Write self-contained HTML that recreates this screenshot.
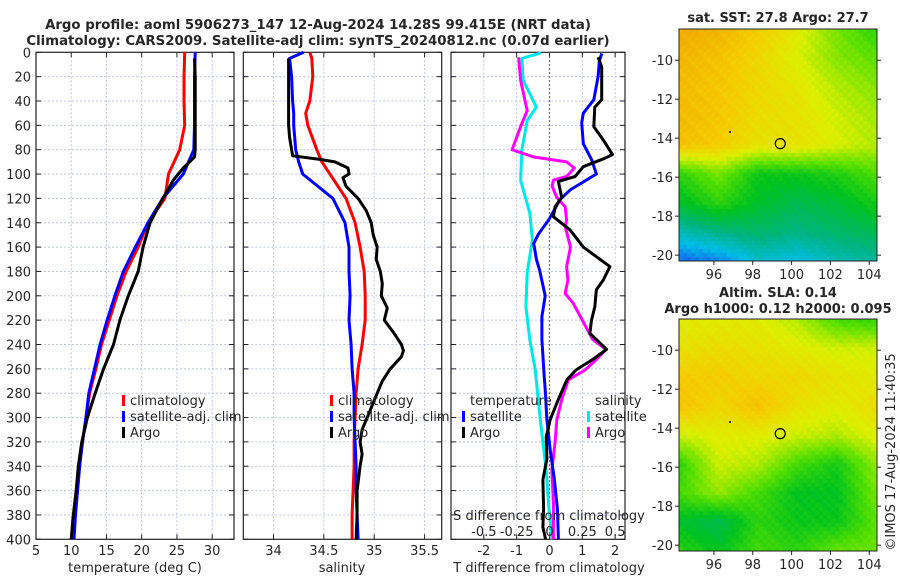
<!DOCTYPE html>
<html><head><meta charset="utf-8"><style>
body{margin:0;background:#fff;width:900px;height:580px;overflow:hidden;font-family:"DejaVu Sans","Liberation Sans",sans-serif}
svg{position:absolute;left:0;top:0}
canvas{position:absolute}
</style></head><body>
<canvas id="m1" width="198" height="232" style="left:679px;top:29px"></canvas>
<canvas id="m2" width="198" height="232" style="left:679px;top:319px"></canvas>
<svg id="s" width="900" height="580"></svg>
<script>
// ---- data ----
const depthTclim=[0,20,40,60,80,100,120,140,160,180,200,220,240,260,280,300,320,340,360,380,400];
const tClim=[26.1,26.0,26.0,26.1,25.4,23.8,23.3,20.9,19.5,17.8,16.5,15.4,14.3,13.5,12.6,12.1,11.6,11.1,10.7,10.4,10.1];
const tSat=[27.6,27.5,27.5,27.5,27.4,25.9,23.0,20.9,19.1,17.4,16.2,15.1,14.1,13.3,12.5,12.1,11.6,11.2,10.9,10.6,10.4];
const depthTargo=[5,20,40,60,80,86,95,105,120,140,160,180,200,220,240,260,280,300,320,340,360,380,400];
const tArgo=[27.5,27.6,27.6,27.6,27.6,27.5,25.9,24.5,23.0,21.2,20.2,19.5,18.1,16.9,16.0,14.6,13.4,12.3,11.5,11.0,10.7,10.3,10.0];

const depthS=[0,5,20,40,50,60,80,90,100,120,140,160,180,200,220,240,260,280,300,320,340,360,380,400];
const sClim=[34.36,34.38,34.39,34.36,34.32,34.34,34.43,34.48,34.56,34.72,34.81,34.86,34.90,34.91,34.91,34.88,34.84,34.82,34.81,34.80,34.80,34.79,34.78,34.78];
const sSat=[34.30,34.16,34.18,34.19,34.20,34.20,34.22,34.25,34.29,34.59,34.71,34.75,34.75,34.76,34.75,34.77,34.78,34.80,34.80,34.81,34.82,34.82,34.83,34.84];
const depthSargo=[5,20,40,60,70,85,88,90,95,100,103,110,120,130,140,150,160,170,180,190,200,210,220,230,240,245,250,260,270,280,290,300,310,320,330,340,360,380,400];
const sArgo=[34.15,34.15,34.15,34.15,34.16,34.19,34.46,34.61,34.74,34.75,34.69,34.72,34.84,34.92,34.97,34.99,35.03,35.02,35.06,35.08,35.07,35.13,35.10,35.19,35.27,35.29,35.27,35.16,35.08,35.03,34.98,34.93,34.88,34.86,34.88,34.86,34.83,34.83,34.82];

const depthDTsat=[1,7,20,39,50,58,75,88,100,113,121,138,149,157,170,179,200,217,236,266,277,302,326,351,375,400];
const dTsat=[1.59,1.52,1.48,1.35,1.03,0.98,1.03,1.28,1.43,0.63,0.32,-0.03,-0.33,-0.48,-0.4,-0.3,-0.13,-0.23,-0.23,-0.16,-0.13,-0.08,0.02,0.15,0.24,0.27];
const depthDTargo=[4,12,39,45,61,72,84,87,94,102,106,119,127,135,146,160,176,187,195,209,220,231,236,244,252,261,269,285,302,316,334,351,375,390,400];
const dTargo=[1.48,1.59,1.59,1.38,1.35,1.64,1.92,1.69,1.03,0.78,0.27,0.37,0.17,0.12,0.63,1.03,1.84,1.64,1.43,1.38,1.28,1.23,1.43,1.74,1.33,0.8,0.53,0.27,0.02,-0.1,-0.08,-0.2,-0.18,-0.2,-0.12];
const depthDSsat=[0.5,5,23,45,56,80,105,132,154,181,209,236,261,302,343,370,400];
const dSsat=[-0.066,-0.21,-0.2,-0.1,-0.17,-0.21,-0.22,-0.15,-0.13,-0.17,-0.18,-0.15,-0.108,-0.07,-0.025,-0.008,0.02];
const depthDSargo=[4,23,48,61,80,86,90,95,102,105,110,119,127,138,143,160,176,187,198,206,222,236,244,252,261,269,285,302,320,343,370,400];
const dSargo=[-0.235,-0.22,-0.17,-0.22,-0.285,-0.12,0.13,0.19,0.13,0.03,0.02,0.055,0.12,0.13,0.12,0.16,0.13,0.14,0.12,0.18,0.26,0.33,0.43,0.36,0.27,0.144,0.094,0.056,0.043,0.018,0.03,0.03];

const depthTicks=[0,20,40,60,80,100,120,140,160,180,200,220,240,260,280,300,320,340,360,380,400];
const tTicks=[5,10,15,20,25,30];
const sTicks=[34,34.5,35,35.5];
const dTTicks=[-2,-1,0,1,2];
const dSTickLabels=["-0.5","-0.25","0","0.25","0.5"];
const dSTicks=[-0.5,-0.25,0,0.25,0.5];

const sstGrid=[
[0.76,0.74,0.70,0.64,0.56,0.50],
[0.74,0.72,0.68,0.63,0.57,0.54],
[0.73,0.71,0.68,0.65,0.60,0.57],
[0.73,0.71,0.67,0.66,0.62,0.59],
[0.72,0.70,0.66,0.66,0.63,0.60],
[0.50,0.56,0.47,0.47,0.49,0.53],
[0.45,0.50,0.45,0.42,0.44,0.48],
[0.34,0.38,0.40,0.38,0.40,0.42],
[0.23,0.25,0.32,0.30,0.34,0.36]];
const slaGrid=[
[0.64,0.64,0.64,0.60,0.52,0.50],
[0.66,0.67,0.66,0.64,0.62,0.62],
[0.70,0.70,0.68,0.68,0.66,0.64],
[0.72,0.68,0.72,0.66,0.64,0.67],
[0.62,0.64,0.64,0.62,0.60,0.64],
[0.50,0.62,0.60,0.52,0.48,0.58],
[0.52,0.58,0.52,0.46,0.46,0.56],
[0.45,0.42,0.50,0.47,0.47,0.54],
[0.50,0.46,0.52,0.50,0.55,0.55]];
const lonTicks=[96,98,100,102,104];
const latTicks=[-10,-12,-14,-16,-18,-20];

// ---- helpers ----
const NS="http://www.w3.org/2000/svg";
const svg=document.getElementById('s');
function el(tag,attrs,parent){const e=document.createElementNS(NS,tag);for(const k in attrs)e.setAttribute(k,attrs[k]);(parent||svg).appendChild(e);return e;}
function txt(x,y,s,anchor,size,weight,parent){const t=el('text',{x:x,y:y,'text-anchor':anchor||'middle','font-size':size||13,fill:'#262626','font-weight':weight||'normal'},parent);t.textContent=s;return t;}
const Y0=52.3,Y1=539.3;
const yD=d=>Y0+(d/400)*(Y1-Y0);
function mkx(x0,x1,v0,v1){return v=>x0+(v-v0)/(v1-v0)*(x1-x0);}

function panel(name,x0,x1,xs,ticks){
  const g=el('g',{});
  
  
  depthTicks.forEach(d=>{if(d>0&&d<400)el('line',{x1:x0,x2:x1,y1:yD(d),y2:yD(d),stroke:'#c0c4e6','stroke-width':1,'stroke-dasharray':'2,2'},g);
    el('line',{x1:x0,x2:x0+5,y1:yD(d),y2:yD(d),stroke:'#222'},g);el('line',{x1:x1-5,x2:x1,y1:yD(d),y2:yD(d),stroke:'#222'},g);});
  ticks.forEach(v=>{const x=xs(v);el('line',{x1:x,x2:x,y1:Y0,y2:Y1,stroke:'#c0c4e6','stroke-dasharray':'2,2'},g);
    el('line',{x1:x,x2:x,y1:Y1-5,y2:Y1,stroke:'#222'},g);el('line',{x1:x,x2:x,y1:Y0,y2:Y0+5,stroke:'#222'},g);});
  el('rect',{x:x0,y:Y0,width:x1-x0,height:Y1-Y0,fill:'none',stroke:'#222','stroke-width':1.2},g);
  return g;
}
function line(g,xs,vals,depths,color,name){
  const p=el('polyline',{points:vals.map((v,i)=>xs(v).toFixed(1)+','+yD(depths[i]).toFixed(1)).join(' '),fill:'none',stroke:color,'stroke-width':3,'stroke-linejoin':'round'},g);
  
  
}
function legend(g,x,y,color,label,name){
  el('rect',{x:x,y:y-10,width:3,height:11,fill:color},g);
  const t=txt(x+8,y,label,'start',13,'normal',g);
  
  
}

// titles
let t=txt(318,29,'Argo profile: aoml 5906273_147 12-Aug-2024 14.28S 99.415E (NRT data)','middle',13.3,'bold');


t=txt(318,45,'Climatology: CARS2009. Satellite-adj clim: synTS_20240812.nc (0.07d earlier)','middle',13.3,'bold');



// depth labels
depthTicks.forEach(d=>{const l=txt(31,yD(d)+5,String(d),'end',13);
  
  });

// panel 1
const xT=mkx(36,234,5,33.1);
const g1=panel('temperature-panel',36,234,xT,tTicks);
line(g1,xT,tClim,depthTclim,'#ff0000','temp-climatology-line');
line(g1,xT,tSat,depthTclim,'#0000ff','temp-satellite-line');
line(g1,xT,tArgo,depthTargo,'#000000','temp-argo-line');
tTicks.forEach(v=>{const l=txt(xT(v),555,String(v),'middle',13,'normal',g1);});
t=txt(135,572,'temperature (deg C)','middle',13,'normal',g1);


legend(g1,122,405,'#ff0000','climatology','legend-climatology');
legend(g1,122,421,'#0000ff','satellite-adj. clim','legend-satellite');
legend(g1,122,437,'#000000','Argo','legend-argo');

// panel 2
const xS=mkx(243.3,441.7,33.7,35.67);
const g2=panel('salinity-panel',243.3,441.7,xS,sTicks);
line(g2,xS,sClim,depthS,'#ff0000','sal-climatology-line');
line(g2,xS,sSat,depthS,'#0000ff','sal-satellite-line');
line(g2,xS,sArgo,depthSargo,'#000000','sal-argo-line');
sTicks.forEach(v=>{const l=txt(xS(v),555,String(v),'middle',13,'normal',g2);});
t=txt(342,572,'salinity','middle',13,'normal',g2);


legend(g2,330,405,'#ff0000','climatology','legend-climatology');
legend(g2,330,421,'#0000ff','satellite-adj. clim','legend-satellite');
legend(g2,330,437,'#000000','Argo','legend-argo');

// panel 3
const xDT=mkx(451,625,-3.0,2.3);
const xDS=v=>xDT(v*4);
const g3=panel('difference-panel',451,625,xDT,dTTicks);
el('line',{x1:xDT(0),x2:xDT(0),y1:Y0,y2:Y1,stroke:'#555','stroke-dasharray':'1.5,2.5','stroke-width':1.3},g3);
line(g3,xDS,dSsat,depthDSsat,'#00e8e8','sdiff-satellite-line');
line(g3,xDS,dSargo,depthDSargo,'#ff00ff','sdiff-argo-line');
line(g3,xDT,dTsat,depthDTsat,'#0000ff','tdiff-satellite-line');
line(g3,xDT,dTargo,depthDTargo,'#000000','tdiff-argo-line');
dTTicks.forEach(v=>{const l=txt(xDT(v),555,String(v),'middle',13,'normal',g3);});
dSTicks.forEach((v,i)=>{const l=txt(xDS(v),536,dSTickLabels[i],'middle',13,'normal',g3);});
t=txt(549,520,'S difference from climatology','middle',13,'normal',g3);


t=txt(549,572,'T difference from climatology','middle',13,'normal',g3);


t=txt(470,405,'temperature','start',13,'normal',g3);


t=txt(595,405,'salinity','start',13,'normal',g3);


legend(g3,462,421,'#0000ff','satellite','legend-t-satellite');
legend(g3,462,437,'#000000','Argo','legend-t-argo');
legend(g3,587,421,'#00e8e8','satellite','legend-s-satellite');
legend(g3,587,437,'#ff00ff','Argo','legend-s-argo');

// maps
const cmStops=[[0.22,[20,90,240]],[0.30,[0,190,230]],[0.38,[0,180,130]],[0.46,[0,195,30]],[0.54,[90,225,0]],[0.63,[220,240,0]],[0.70,[245,205,0]],[0.78,[240,160,0]],[0.9,[235,110,0]]];
function cmap(v){
  if(v<=cmStops[0][0])return 'rgb('+cmStops[0][1].join(',')+')';
  for(let k=1;k<cmStops.length;k++){if(v<=cmStops[k][0]){const a=(v-cmStops[k-1][0])/(cmStops[k][0]-cmStops[k-1][0]);const c0=cmStops[k-1][1],c1=cmStops[k][1];return 'rgb('+c0.map((q,i)=>Math.round(q+(c1[i]-q)*a)).join(',')+')';}}
  return 'rgb('+cmStops[cmStops.length-1][1].join(',')+')';
}
function drawMap(id,grid){
  const c=document.getElementById(id).getContext('2d');const W=198,H=232,cs=4;
  const R=grid.length,C=grid[0].length;
  for(let y=0;y<H;y+=cs)for(let x=0;x<W;x+=cs){
    const fy=(y+2)/H*(R-1),fx=(x+2)/W*(C-1);const i=Math.min(R-2,Math.floor(fy)),j=Math.min(C-2,Math.floor(fx));const a=fy-i,b=fx-j;
    let v=grid[i][j]*(1-a)*(1-b)+grid[i+1][j]*a*(1-b)+grid[i][j+1]*(1-a)*b+grid[i+1][j+1]*a*b;
    v+=(((x*7+y*13)%5)-2)*0.004;
    c.fillStyle=cmap(v);c.fillRect(x,y,cs,cs);}
}
drawMap('m1',sstGrid);drawMap('m2',slaGrid);
const xLon=mkx(679,877,94.2,104.4);
function mapAxes(top,name){
  const g=el('g',{});
  
  
  const yLat=mkx(top,top+232,-8.4,-20.3);
  el('rect',{x:679,y:top,width:198,height:232,fill:'none',stroke:'#222'},g);
  lonTicks.forEach(v=>{el('line',{x1:xLon(v),x2:xLon(v),y1:top+232,y2:top+236,stroke:'#222'},g);
    const l=txt(xLon(v),top+250,String(v),'middle',13,'normal',g);});
  latTicks.forEach(v=>{el('line',{x1:675,x2:679,y1:yLat(v),y2:yLat(v),stroke:'#222'},g);el('line',{x1:877,x2:881,y1:yLat(v),y2:yLat(v),stroke:'#222'},g);
    const l=txt(673,yLat(v)+5,String(v),'end',13,'normal',g);});
  el('circle',{cx:xLon(99.415),cy:yLat(-14.28),r:5,fill:'none',stroke:'#000','stroke-width':1.2},g);
  el('circle',{cx:730,cy:top+103,r:1,fill:'#000'},g);
}
mapAxes(29,'sst-map-axes');mapAxes(319,'sla-map-axes');
t=txt(778,22,'sat. SST: 27.8 Argo: 27.7','middle',13,'bold');


t=txt(778,297,'Altim. SLA: 0.14','middle',13,'bold');


t=txt(778,313,'Argo h1000: 0.12 h2000: 0.095','middle',13,'bold');


t=el('text',{x:0,y:0,'text-anchor':'middle','font-size':13,fill:'#262626',transform:'translate(895,452) rotate(-90)'});
t.textContent='©IMOS 17-Aug-2024 11:40:35';


</script>
</body></html>
